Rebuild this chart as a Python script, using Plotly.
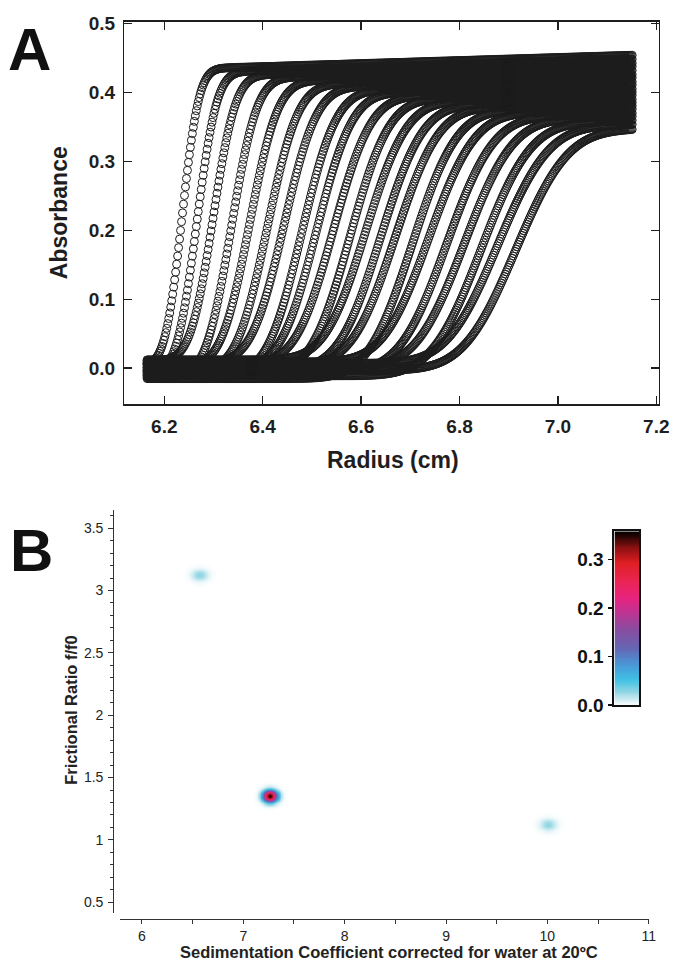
import math
import numpy as np
import plotly.graph_objects as go

FONT = "Liberation Sans, Arial, Helvetica, sans-serif"
W, H = 686, 975

# ---------------- Panel A data (sedimentation velocity scans) ----------------
scan_midpoint = [6.236, 6.266, 6.299, 6.336, 6.373, 6.409, 6.443, 6.479, 6.509, 6.543, 6.577,
                 6.609, 6.639, 6.669, 6.703, 6.737, 6.773, 6.809, 6.843, 6.877, 6.913]
scan_width = [0.027, 0.032, 0.036, 0.041, 0.045, 0.049, 0.052, 0.055, 0.057, 0.060, 0.062,
              0.065, 0.067, 0.069, 0.071, 0.073, 0.075, 0.077, 0.079, 0.081, 0.083]
scan_plateau = [0.434, 0.429, 0.424, 0.420, 0.415, 0.410, 0.406, 0.401, 0.397, 0.392, 0.388,
                0.384, 0.379, 0.375, 0.371, 0.367, 0.362, 0.358, 0.353, 0.348, 0.342]
scan_baseline = [0.004, -0.007, 0.011, -0.013, 0.002, -0.004, 0.008, -0.010, 0.000, 0.006, -0.008,
                 0.012, -0.002, 0.004, -0.015, 0.009, -0.005, 0.001, -0.011, 0.007, -0.003]
plateau_slope = 0.022
radius_start, radius_end, radius_step = 6.165, 7.152, 0.002

radius_ticks = [6.2, 6.4, 6.6, 6.8, 7.0, 7.2]
absorbance_ticks = [0.0, 0.1, 0.2, 0.3, 0.4, 0.5]

# ---------------- Panel B data (2DSA distribution) ----------------
peak_s = [7.262, 6.567, 10.004]
peak_ff0 = [1.353, 3.126, 1.123]
peak_conc = [0.358, 0.029, 0.029]
peak_sigma_s = [0.046, 0.055, 0.055]
peak_sigma_ff0 = [0.031, 0.032, 0.032]
s_ticks = [6, 7, 8, 9, 10, 11]
ff0_ticks = [0.5, 1, 1.5, 2, 2.5, 3, 3.5]
cbar_ticks = [0.0, 0.1, 0.2, 0.3]
cbar_ticktext = ["0.0", "0.1", "0.2", "0.3"]
conc_max = 0.358

colorscale = [
    [0.00, "#ffffff"],
    [0.03, "#d6eff4"],
    [0.08, "#8ed5e3"],
    [0.15, "#3fc0e6"],
    [0.24, "#4b95d6"],
    [0.33, "#6766b4"],
    [0.44, "#8a4c9f"],
    [0.54, "#c23392"],
    [0.62, "#e8237f"],
    [0.72, "#ea2452"],
    [0.82, "#e01f24"],
    [0.91, "#8a1010"],
    [1.00, "#000000"],
]


def px_x(p):
    return p / W


def px_y(p):
    return 1 - p / H


fig = go.Figure()

# ---------------- Panel A traces ----------------
r = np.arange(radius_start, radius_end, radius_step)
for m, w, p, b in zip(scan_midpoint, scan_width, scan_plateau, scan_baseline):
    frac = np.array([0.5 * (1 + math.erf((x - m) / (math.sqrt(2) * w))) for x in r])
    top = p + plateau_slope * (r - m)
    a = b + (top - b) * frac
    fig.add_trace(go.Scatter(
        x=r, y=a, mode="markers", xaxis="x", yaxis="y", showlegend=False,
        marker=dict(symbol="circle-open", size=8, color="#1c1c1c", line=dict(width=1)),
        hoverinfo="skip"))

# ---------------- Panel B heatmap ----------------
s_grid = np.arange(5.78, 11.0 + 1e-9, 0.015)
f_grid = np.arange(0.415, 3.645, 0.009)
S, F = np.meshgrid(s_grid, f_grid)
Z = np.zeros_like(S)
for s0, f0, c0, ss, sf in zip(peak_s, peak_ff0, peak_conc, peak_sigma_s, peak_sigma_ff0):
    Z += c0 * np.exp(-((S - s0) ** 2) / (2 * ss ** 2) - ((F - f0) ** 2) / (2 * sf ** 2))
Z = np.round(Z, 5)
fig.add_trace(go.Heatmap(
    x=s_grid, y=f_grid, z=Z, xaxis="x2", yaxis="y2", colorscale=colorscale,
    zmin=0, zmax=conc_max, showscale=False, zsmooth="best", hoverinfo="skip"))

# colour bar drawn as its own small axis so labels sit on the left
cb_levels = np.linspace(0, conc_max, 150)
fig.add_trace(go.Heatmap(
    x=[0], y=cb_levels, z=[[v] for v in cb_levels], xaxis="x3", yaxis="y3",
    colorscale=colorscale, zmin=0, zmax=conc_max, showscale=False, zsmooth="best",
    hoverinfo="skip"))

axis_color = "#1e1e1e"

fig.update_layout(
    width=W, height=H, autosize=False,
    margin=dict(l=0, r=0, t=0, b=0, pad=0),
    paper_bgcolor="white", plot_bgcolor="white",
    font=dict(family=FONT, color=axis_color),
    xaxis=dict(
        domain=[px_x(126.5), px_x(669.3)], range=[6.119, 7.2046], anchor="y",
        tickvals=radius_ticks, tickformat=".1f", ticks="inside", ticklen=8, tickwidth=1.5,
        tickcolor=axis_color, showline=True, linewidth=1.6, linecolor=axis_color, mirror="ticks",
        showgrid=False, zeroline=False, ticklabelstandoff=5,
        tickfont=dict(family=FONT, size=19, color=axis_color, weight="bold")),
    yaxis=dict(
        domain=[px_y(403.3), px_y(13.3)], range=[-0.052, 0.5024], anchor="x",
        tickvals=absorbance_ticks, tickformat=".1f", ticks="inside", ticklen=8, tickwidth=1.5,
        tickcolor=axis_color, showline=True, linewidth=1.6, linecolor=axis_color, mirror="ticks",
        showgrid=False, zeroline=False, ticklabelstandoff=4,
        tickfont=dict(family=FONT, size=19, color=axis_color, weight="bold")),
    xaxis2=dict(
        domain=[px_x(121.7), px_x(659.3)], range=[5.781, 11.0], anchor="free",
        position=px_y(929.3), tickvals=s_ticks, ticks="outside", ticklen=4, tickwidth=1,
        tickcolor="#333", showline=True, linewidth=1.2, linecolor="#333",
        minor=dict(dtick=0.5, ticks="outside", ticklen=4, tickwidth=1, tickcolor="#333", showgrid=False),
        showgrid=False, zeroline=False,
        tickfont=dict(family=FONT, size=14, color="#222")),
    yaxis2=dict(
        domain=[px_y(922.7), px_y(511.7)], range=[0.4155, 3.644], anchor="free",
        position=px_x(115), tickvals=ff0_ticks, ticks="outside", ticklen=5, tickwidth=1,
        tickcolor="#333", showline=True, linewidth=1.2, linecolor="#333",
        minor=dict(dtick=0.1, ticks="outside", ticklen=3, tickwidth=1, tickcolor="#333", showgrid=False),
        showgrid=False, zeroline=False, ticklabelstandoff=2,
        tickfont=dict(family=FONT, size=14, color="#222")),
    xaxis3=dict(
        domain=[px_x(624.5), px_x(649.5)], range=[-0.5, 0.5], anchor="y3",
        showticklabels=False, ticks="", showline=True, linewidth=2, linecolor="#111",
        mirror=True, showgrid=False, zeroline=False),
    yaxis3=dict(
        domain=[px_y(710.7), px_y(533.3)], range=[0, conc_max], anchor="x3", side="left",
        tickvals=cbar_ticks, ticktext=cbar_ticktext, ticks="outside", ticklen=4, tickwidth=1.5,
        tickcolor="#111", showline=True, linewidth=2, linecolor="#111", mirror=True,
        showgrid=False, zeroline=False, ticklabelstandoff=1,
        tickfont=dict(family=FONT, size=19, color="#111", weight="bold")),
)

annotations = [
    dict(text="<b>A</b>", x=px_x(30), y=px_y(41.7), font=dict(size=60, color="#111")),
    dict(text="<b>B</b>", x=px_x(32.5), y=px_y(553.3), font=dict(size=60, color="#111")),
    dict(text="<b>Absorbance</b>", x=px_x(59.4), y=px_y(208), textangle=-90,
         font=dict(size=23, color=axis_color)),
    dict(text="<b>Radius (cm)</b>", x=px_x(399), y=px_y(460), font=dict(size=23, color=axis_color)),
    dict(text="<b>Frictional Ratio f/f0</b>", x=px_x(72.6), y=px_y(716), textangle=-90,
         font=dict(size=16.5, color="#222")),
    dict(text="<b>Sedimentation Coefficient corrected for water at 20ºC</b>", x=px_x(395),
         y=px_y(963), font=dict(size=16.5, color="#222")),
]
for a in annotations:
    a.update(xref="paper", yref="paper", showarrow=False, xanchor="center", yanchor="middle")
    a["font"]["family"] = FONT
fig.update_layout(annotations=annotations)

fig.write_html(
    "out.html",
    config={"displayModeBar": False, "staticPlot": True},
    post_script="document.body.style.margin='0px';document.body.style.overflow='hidden';",
)
